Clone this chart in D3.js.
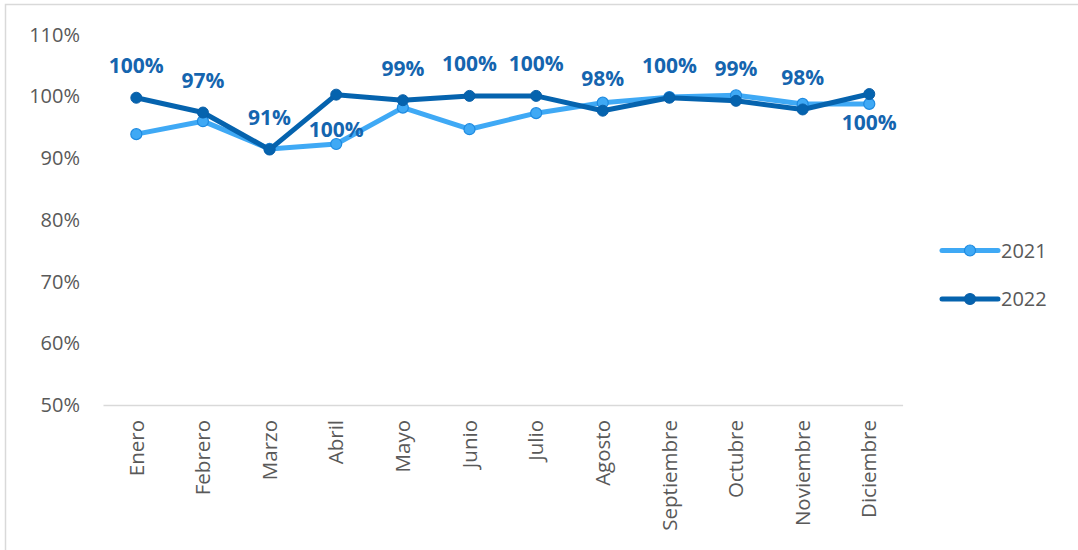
<!DOCTYPE html>
<html><head><meta charset="utf-8">
<script src="https://cdn.jsdelivr.net/npm/d3@7"></script>
<style>
html,body{margin:0;padding:0;background:#fff;}
svg{display:block;font-family:"Open Sans",sans-serif;}
</style></head>
<body>
<svg id="c" width="1078" height="550"></svg>
<script>
const months = ["Enero","Febrero","Marzo","Abril","Mayo","Junio","Julio","Agosto","Septiembre","Octubre","Noviembre","Diciembre"];
const values2021 = [93.9, 96.0, 91.5, 92.3, 98.2, 94.7, 97.3, 99.0, 99.9, 100.2, 98.8, 98.8];
const values2022 = [99.8, 97.4, 91.4, 100.3, 99.4, 100.1, 100.1, 97.7, 99.8, 99.3, 97.9, 100.4];
const yTicks = [50, 60, 70, 80, 90, 100, 110];
const seriesNames = ["2021", "2022"];
const labelBelow = ["Abril", "Diciembre"];

const svg = d3.select("#c");
const colLight = "#3FA9F5", colLightStroke = "#1E8AE0";
const colDark = "#0563AE";
const labelCol = "#1565AF";

// border
svg.append("rect").attr("x",5.5).attr("y",4.5).attr("width",1100).attr("height",600)
  .attr("fill","none").attr("stroke","#d9d9d9").attr("stroke-width",1.5);

const x = d3.scaleBand().domain(months).range([103, 902.6]);
const y = d3.scaleLinear().domain([50, 110]).range([405, 34.8]);

// y axis labels
const yAxis = d3.axisLeft(y).tickValues(yTicks).tickFormat(d => d + "%").tickSize(0).tickPadding(0);
const gy = svg.append("g").attr("transform","translate(80,0)").call(yAxis);
gy.select(".domain").remove();
gy.selectAll("text").attr("font-size",20).attr("fill","#595959").attr("font-family","'Open Sans',sans-serif");

// x axis
const xAxis = d3.axisBottom(x).tickSize(0).tickPadding(0);
const gx = svg.append("g").attr("transform","translate(0,405)").call(xAxis);
gx.select(".domain").attr("stroke","#d9d9d9").attr("stroke-width",1.5);
gx.selectAll("text")
  .attr("font-size",20.5).attr("fill","#595959").attr("font-family","'Open Sans',sans-serif")
  .attr("transform","rotate(-90)").attr("text-anchor","end")
  .attr("x",-15).attr("y",0).attr("dy","0.35em");

const cx = d => x(d) + x.bandwidth()/2;
const line = d3.line().x((d,i) => cx(months[i])).y(d => y(d));

// 2021
svg.append("path").datum(values2021).attr("d",line).attr("fill","none")
  .attr("stroke",colLight).attr("stroke-width",5).attr("stroke-linejoin","round");
svg.append("g").selectAll("circle").data(values2021).join("circle")
  .attr("cx",(d,i)=>cx(months[i])).attr("cy",d=>y(d)).attr("r",5.5)
  .attr("fill",colLight).attr("stroke",colLightStroke).attr("stroke-width",1.2);

// 2022
svg.append("path").datum(values2022).attr("d",line).attr("fill","none")
  .attr("stroke",colDark).attr("stroke-width",5).attr("stroke-linejoin","round");
svg.append("g").selectAll("circle").data(values2022).join("circle")
  .attr("cx",(d,i)=>cx(months[i])).attr("cy",d=>y(d)).attr("r",5.5)
  .attr("fill",colDark).attr("stroke","#0A5FA8").attr("stroke-width",1);

// data labels (2022)
svg.append("g").selectAll("text").data(values2022).join("text")
  .attr("x",(d,i)=>cx(months[i]))
  .attr("y",(d,i)=> labelBelow.includes(months[i]) ? y(d)+(i === 11 ? 29 : 35) : y(d)-32)
  .attr("dy","0.35em").attr("text-anchor","middle")
  .attr("font-size",21).attr("font-weight",700).attr("fill",labelCol)
  .text(d => Math.round(d) + "%");

// legend
const leg = svg.append("g");
const legY = [250.5, 299];
const legCols = [colLight, colDark];
const legStroke = [colLightStroke, "#0A5FA8"];
seriesNames.forEach((s,i) => {
  leg.append("line").attr("x1",942).attr("x2",998).attr("y1",legY[i]).attr("y2",legY[i])
    .attr("stroke",legCols[i]).attr("stroke-width",5).attr("stroke-linecap","round");
  leg.append("circle").attr("cx",970).attr("cy",legY[i]).attr("r",5.5)
    .attr("fill",legCols[i]).attr("stroke",legStroke[i]).attr("stroke-width",1.2);
  leg.append("text").attr("x",1001).attr("y",legY[i]).attr("dy","0.35em")
    .attr("font-size",20).attr("fill","#595959").text(s);
});
</script>
</body></html>
